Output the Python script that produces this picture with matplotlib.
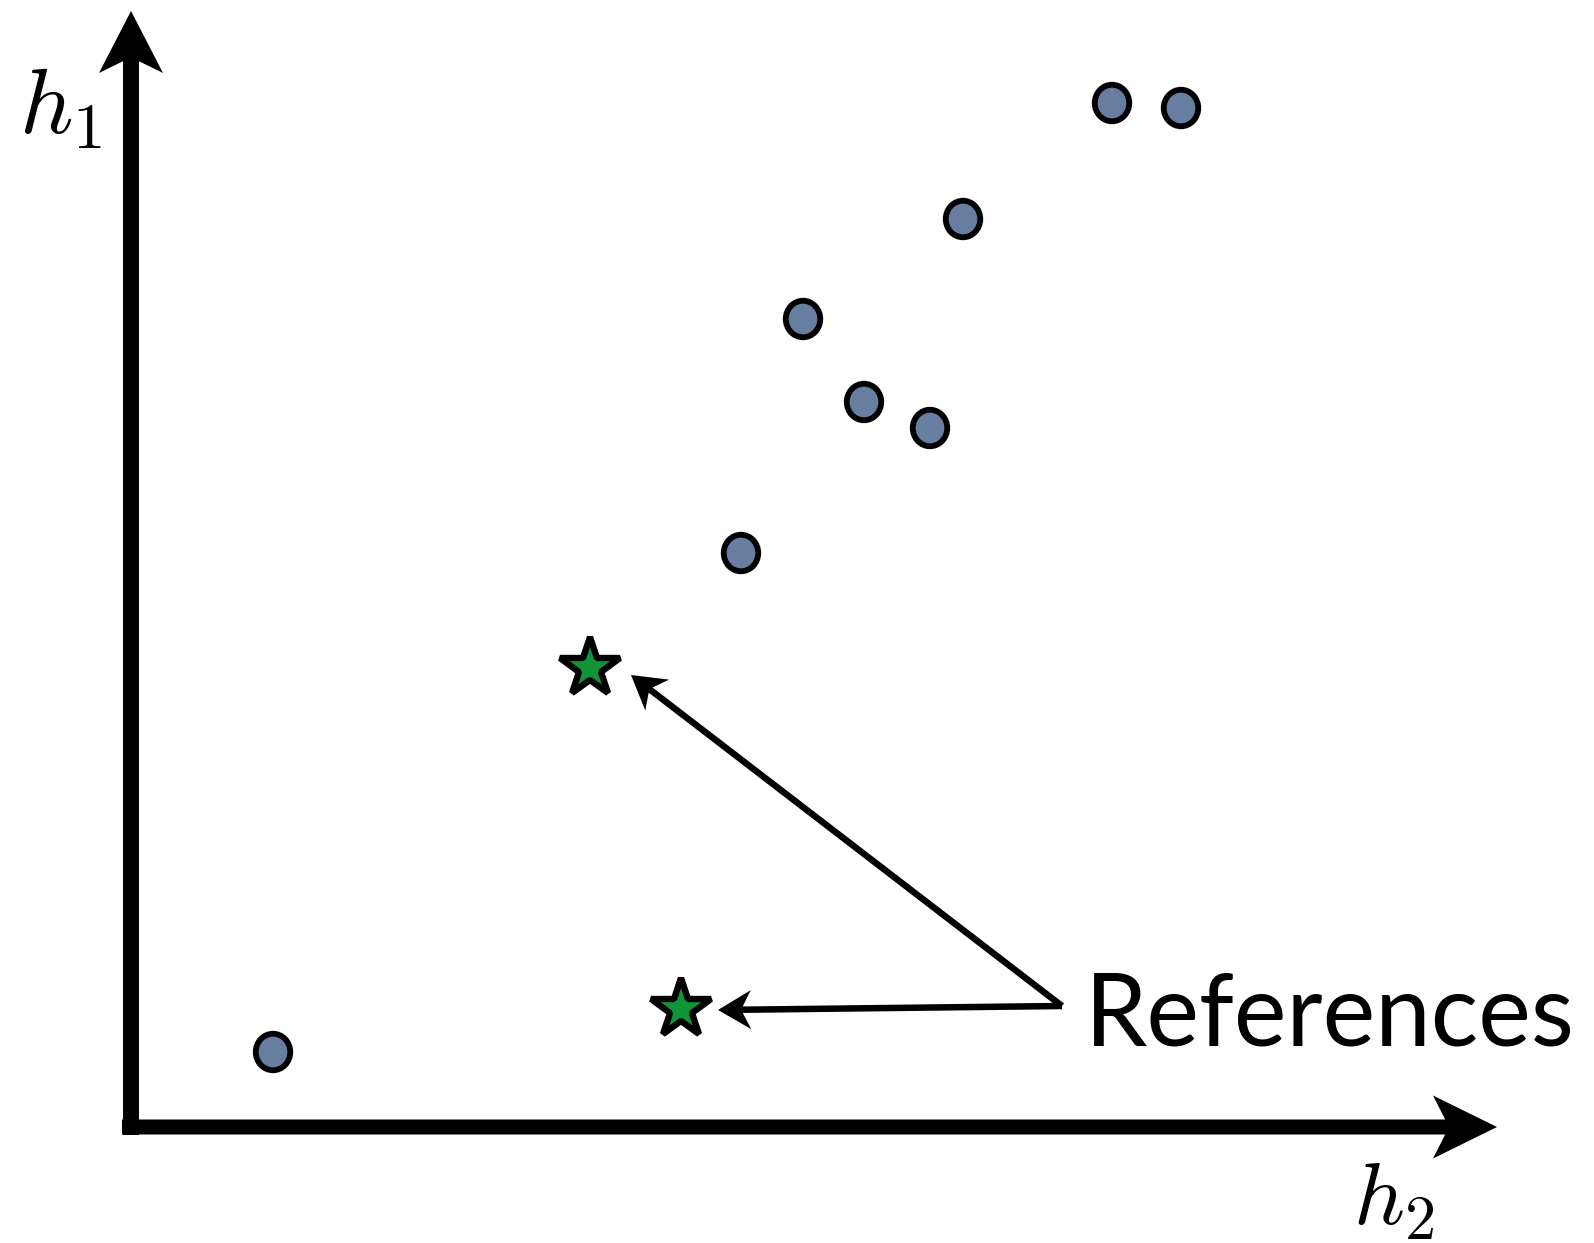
import matplotlib
matplotlib.use("Agg")
from matplotlib import pyplot as plt
from matplotlib.patches import Ellipse

plt.rcParams['mathtext.fontset'] = 'cm'

# points in the (h2, h1) plane
circle_h2 = [9.81, 10.50, 8.32, 6.72, 7.33, 7.99, 6.10, 1.42]
circle_h1 = [10.24, 10.19, 9.08, 8.08, 7.25, 6.99, 5.74, 0.75]
star_h2 = [4.59, 5.50]
star_h1 = [4.59, 1.18]
label_text = "References"
label_pos = (9.54, 0.82)
arrow_tail = (9.31, 1.21)

fig = plt.figure(figsize=(15.94, 12.43), dpi=100)
ax = fig.add_axes([0, 0, 1, 1])
ax.set_xlim(-1.31, 14.63)
ax.set_ylim(-1.16, 11.27)
ax.axis('off')

# axes drawn as arrows
ax.arrow(-0.09, 0, 13.75, 0, width=0.15, head_width=0.63, head_length=0.64,
         overhang=0.19, length_includes_head=True, color='black', lw=0)
ax.arrow(0, -0.08, 0, 11.24, width=0.16, head_width=0.64, head_length=0.62,
         overhang=0.19, length_includes_head=True, color='black', lw=0)

ax.text(-1.12, 9.94, r'$h_1$', fontsize=67, ha='left', va='baseline')
ax.text(12.22, -0.98, r'$h_2$', fontsize=64, ha='left', va='baseline')

for x, y in zip(circle_h2, circle_h1):
    ax.add_patch(Ellipse((x, y), 0.345, 0.365, facecolor='#687ea0',
                         edgecolor='black', lw=4.2, zorder=3))

ax.plot(star_h2, star_h1, ls='none', marker='*', ms=45, mfc='#119438',
        mec='black', mew=4.6, zorder=3)

# arrows from the label to each star
for x, y in zip(star_h2, star_h1):
    if y > 2:
        tip = (x + 0.41, y - 0.07)
    else:
        tip = (x + 0.37, y - 0.01)
    ax.arrow(arrow_tail[0], arrow_tail[1], tip[0] - arrow_tail[0], tip[1] - arrow_tail[1],
             width=0.065, head_width=0.39, head_length=0.33, overhang=0.25,
             length_includes_head=True, color='black', lw=0, zorder=2)

lbl = ax.text(label_pos[0], label_pos[1], label_text, fontsize=77, family='Lato',
              ha='left', va='baseline')
# fit the label to the width it has in the reference
fig.canvas.draw()
w = lbl.get_window_extent().width
lbl.set_fontsize(77 * 490 / w)

fig.savefig('out.png', dpi=100)
